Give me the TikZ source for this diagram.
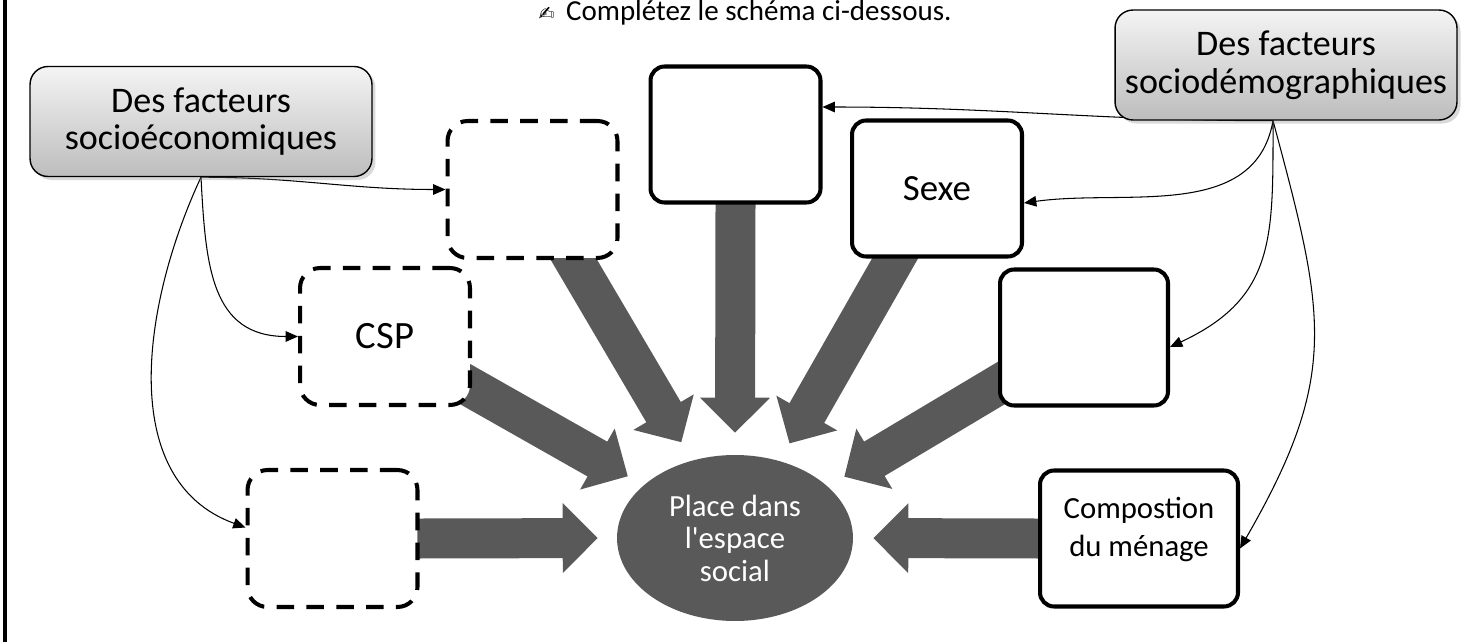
\documentclass[tikz,border=0pt]{standalone}
\usepackage{fontspec}
\setmainfont{Carlito}
\newfontfamily\dingfont{DejaVu Sans}
\usetikzlibrary{shapes.geometric,arrows.meta,shadows,backgrounds}
\definecolor{arrowgrey}{HTML}{595959}
\definecolor{boxtop}{HTML}{F4F4F4}
\definecolor{boxbottom}{HTML}{BDBDBD}

\begin{document}
\begin{tikzpicture}[x=0.02cm,y=-0.02cm,
        factorbox/.style={draw,line width=0.8pt,rounded corners=0.36cm,top color=boxtop,bottom color=boxbottom,
            drop shadow={opacity=0.3,shadow xshift=2pt,shadow yshift=-2pt},
            minimum width=6.84cm,minimum height=2.2cm,align=center,font=\fontsize{20.5}{21.5}\selectfont},
        emptybox/.style={draw,fill=white,line width=2.3pt,dash pattern=on 10pt off 7pt,rounded corners=0.4cm,
            minimum width=3.4cm,minimum height=2.74cm,align=center,font=\fontsize{22}{24}\selectfont},
        solidbox/.style={draw,fill=white,line width=2.3pt,rounded corners=0.28cm,
            minimum width=3.4cm,minimum height=2.72cm,align=center,font=\fontsize{21}{24}\selectfont},
        bigarrow/.style={draw=arrowgrey,line width=0.8cm,shorten <=-0.5cm,-{Triangle[length=0.7cm,width=1.36cm]}},
        thinarrow/.style={semithick,-{Triangle[length=7pt,width=6pt]}}]
    \useasboundingbox (0,0) rectangle (1483,642);
    %% frame edge
    \draw[line width=2.3pt] (5,0) -- (5,642);
    %% title
    \node[anchor=base,inner sep=0pt,font=\fontsize{16.5}{18}\selectfont] (title) at (745,21)
        {{\dingfont\fontsize{11}{11}\selectfont ✍}\, Complétez le schéma ci-dessous.};
    %% the two groups of factors
    \node[factorbox] (soceco) at (201,121.5) {Des facteurs\\socioéconomiques};
    \node[factorbox] (socdemo) at (1286,65) {Des facteurs\\sociodémographiques};
    %% boxes to fill in
    \node[emptybox] (boxA) at (532.5,189.5) {};
    \node[emptybox] (csp) at (385,336.5) {CSP};
    \node[emptybox] (boxC) at (332.5,538.5) {};
    \node[solidbox] (boxB) at (735.5,134.5) {};
    \node[solidbox] (sexe) at (937,188.5) {Sexe};
    \node[solidbox,minimum width=3.36cm] (boxD) at (1084,337.5) {};
    \node[solidbox,minimum width=3.96cm,text depth=0.46cm,font=\fontsize{17.5}{21.5}\selectfont] (compo) at (1139,538.5) {Compostion\\du ménage};
    %% centre
    \node[ellipse,fill=arrowgrey,text=white,minimum width=4.72cm,minimum height=3.32cm,inner sep=0pt,
        align=center,font=\fontsize{17.5}{18.5}\selectfont] (place) at (735,538) {Place dans\\l\textquotesingle espace\\social};
    \begin{scope}[on background layer]
        %% big arrows
        \draw[bigarrow,shorten >=0.38cm] (boxC.east) -- (place.west);
        \draw[bigarrow,shorten >=0.4cm] (compo.west) -- (place.east);
        \draw[bigarrow,shorten >=0.44cm] (boxB.south) -- (place.north);
        \draw[bigarrow,shorten >=0.42cm] ([xshift=0.83cm]boxA.south) -- (place.119);
        \draw[bigarrow,shorten >=0.4cm] ([xshift=-0.84cm]sexe.south) -- (place.60);
        \draw[bigarrow,shorten >=0.36cm] ([yshift=-1.03cm]csp.east) -- (place.150);
        \draw[bigarrow,shorten >=0.38cm] ([yshift=-0.95cm]boxD.west) -- (place.29);
        %% thin arrows
        \draw[thinarrow] (soceco.south) to[out=0,in=180] (boxA.west);
        \draw[thinarrow] (soceco.south) to[out=-87,in=180,looseness=1.2] (csp.west);
        \draw[thinarrow] (soceco.south) to[out=-115,in=160] ([yshift=0.22cm]boxC.west);
        \draw[thinarrow] ([xshift=-0.26cm]socdemo.south) to[out=180,in=0] ([yshift=0.55cm]boxB.east);
        \draw[thinarrow] ([xshift=-0.26cm]socdemo.south) to[out=-100,in=8] ([yshift=-0.29cm]sexe.east);
        \draw[thinarrow] ([xshift=-0.26cm]socdemo.south) to[out=-90,in=25,looseness=1.2] ([yshift=-0.19cm]boxD.east);
        \draw[thinarrow] ([xshift=-0.26cm]socdemo.south) to[out=-75,in=60,looseness=1.2] ([yshift=-0.2cm]compo.east);
    \end{scope}
\end{tikzpicture}
\end{document}
